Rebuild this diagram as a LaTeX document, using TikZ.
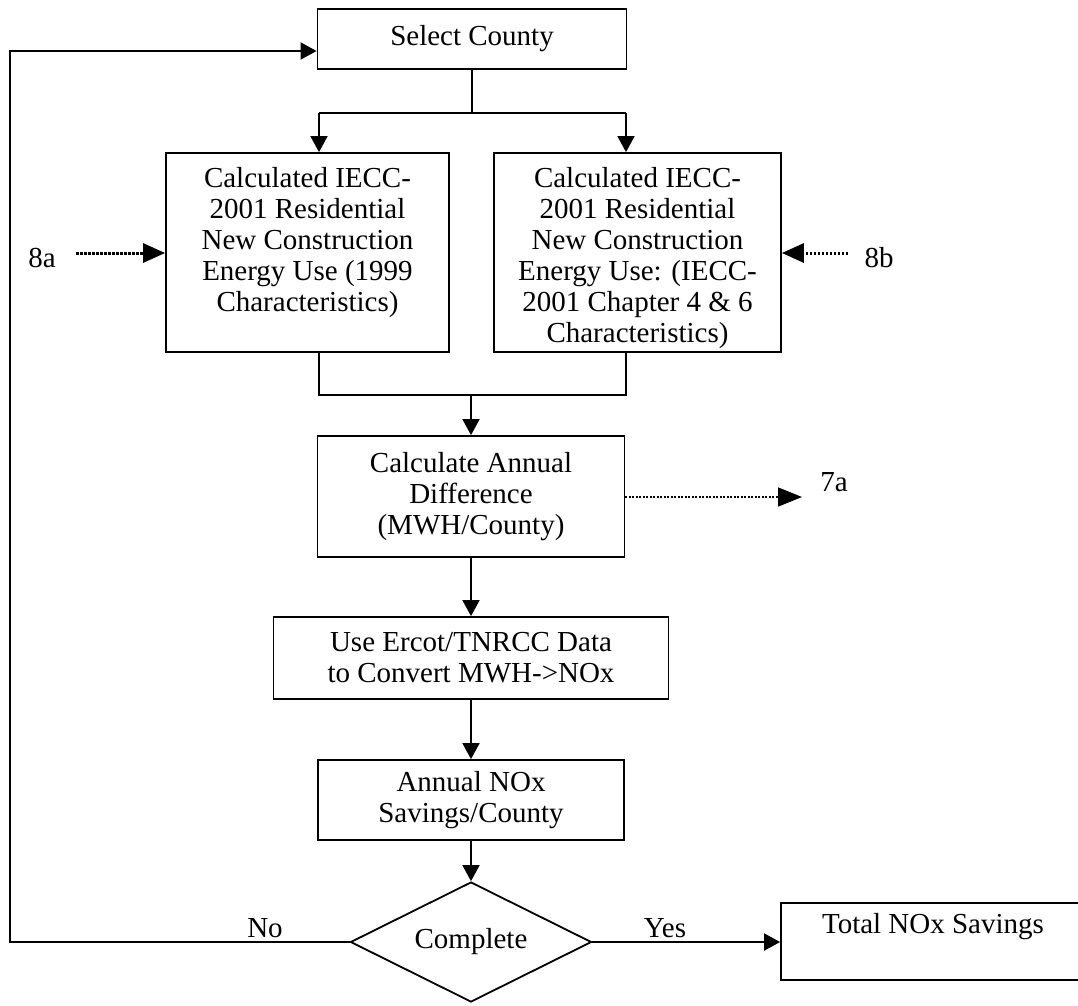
\documentclass[tikz,border=0pt]{standalone}
\usepackage{fontspec}
\setmainfont{Liberation Serif}
\usetikzlibrary{arrows.meta,shapes.geometric}
\newcommand{\mytopbox}[4]{\parbox[c][#2][t]{#1}{\centering\rule{0pt}{#3}#4}}
\begin{document}
\begin{tikzpicture}[x=1pt,y=-1pt, line width=1.8pt,
  every node/.style={font=\fontsize{29}{31}\selectfont},
  box/.style={draw, rectangle, inner sep=0pt, align=center},
  arr/.style={-{Triangle[length=16pt,width=17pt]}},
  dotarr/.style={dash pattern=on 2.5pt off 1.5pt, line width=3pt, -{Triangle[length=22pt,width=19pt]}},
  thindot/.style={dash pattern=on 2pt off 1.5pt, line width=1.6pt, -{Triangle[length=24pt,width=19pt]}},
  lbl/.style={inner sep=0pt}]
\useasboundingbox (0,0) rectangle (1078,1005);
\clip (0,0) rectangle (1078,1005);

% boxes
\node[box, minimum width=309pt, minimum height=60pt] (sel) at (472,39) {Select County};
\node[box] (left) at (307.5,252.5) {\mytopbox{283pt}{199pt}{34pt}{Calculated IECC-\\2001 Residential\\New Construction\\Energy Use (1999\\Characteristics)}};
\node[box] (right) at (637.5,252.5) {\mytopbox{287pt}{199pt}{34pt}{Calculated IECC-\\2001 Residential\\New Construction\\Energy Use: (IECC-\\2001 Chapter 4 \& 6\\Characteristics)}};
\node[box, minimum width=307pt, minimum height=121pt] (calc) at (471,496.5) {Calculate Annual\\Difference\\(MWH/County)};
\node[box, minimum width=395pt, minimum height=82pt] (ercot) at (471,658) {Use Ercot/TNRCC Data\\to Convert MWH->NOx};
\node[box, minimum width=306pt, minimum height=80pt] (annual) at (471,800) {Annual NOx\\Savings/County};
\node[draw, diamond, aspect=2, inner sep=0pt, minimum width=241pt, minimum height=120pt] (dia) at (471,942) {Complete};
\node[box] (total) at (933,941.5) {\mytopbox{304pt}{77pt}{30pt}{Total NOx Savings}};

% labels
\node[lbl] (l8a) at (42,258) {8a};
\node[lbl] (l8b) at (879,258) {8b};
\node[lbl] (l7a) at (834,482) {7a};
\node[lbl] (lno) at (265,928) {No};
\node[lbl] (lyes) at (665,928) {Yes};

% coordinates
\coordinate (jal) at (319,113);
\coordinate (jar) at (626,113);
\coordinate (jbl) at (319,395);
\coordinate (jbr) at (626,395);
\coordinate (lpb) at (10,942);
\coordinate (lpt) at (10,51);
\coordinate (s8a) at (76,253);
\coordinate (s8b) at (848,253);
\coordinate (e7a) at (802,497);

% connectors
\draw (sel.south) -- (sel.south |- jal);
\draw (jal) -- (jar);
\draw[arr] (jal) -- (jal |- left.north);
\draw[arr] (jar) -- (jar |- right.north);
\draw (jbl |- left.south) -- (jbl) -- (jbr) -- (jbr |- right.south);
\draw[arr] (calc.north |- jbl) -- (calc.north);
\draw[arr] (calc.south) -- (ercot.north);
\draw[arr] (ercot.south) -- (annual.north);
\draw[arr] (annual.south) -- (dia.north);
\draw[arr] (dia.west) -- (lpb) -- (lpt) -- (lpt -| sel.west);
\draw[arr] (dia.east) -- (dia.east -| total.west);
\draw[dotarr] (s8a) -- (s8a -| left.west);
\draw[dotarr] (s8b) -- (s8b -| right.east);
\draw[thindot] (calc.east |- e7a) -- (e7a);
\end{tikzpicture}
\end{document}
